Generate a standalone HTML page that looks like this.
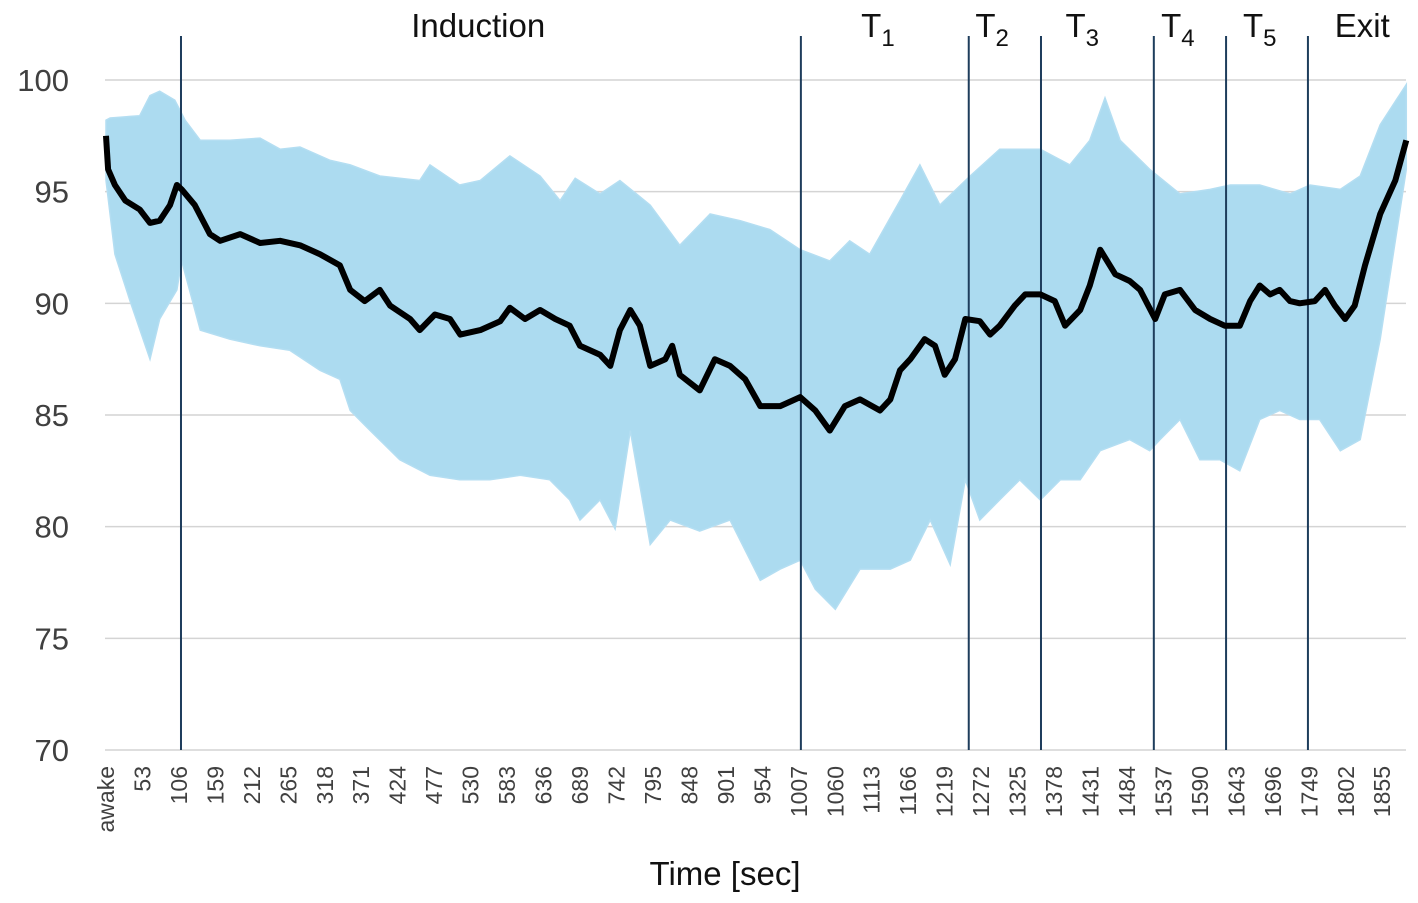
<!DOCTYPE html>
<html><head><meta charset="utf-8"><style>
html,body{margin:0;padding:0;background:#fff;}
svg{display:block;font-family:"Liberation Sans",sans-serif;}
</style></head><body>
<svg id="chart" width="1418" height="903" viewBox="0 0 1418 903">
<g id="grid"></g>
<g id="band"></g>
<g id="events"></g>
<g id="mean"></g>
<g id="ylab"></g>
<g id="xlab"></g>
<text x="725" y="885" font-size="33" text-anchor="middle" fill="#111">Time [sec]</text>
</svg>
<script>
const yTicks=[70,75,80,85,90,95,100];
const xTickLabels=["awake","53","106","159","212","265","318","371","424","477","530","583","636","689","742","795","848","901","954","1007","1060","1113","1166","1219","1272","1325","1378","1431","1484","1537","1590","1643","1696","1749","1802","1855"];
const xTickSecs=[0,53,106,159,212,265,318,371,424,477,530,583,636,689,742,795,848,901,954,1007,1060,1113,1166,1219,1272,1325,1378,1431,1484,1537,1590,1643,1696,1749,1802,1855];
const eventSecs=[109,1010,1254,1359,1523,1628,1747];
const phaseNames=["Induction","T","T","T","T","T","Exit"];
const phaseSubs=["","1","2","3","4","5",""];
const phaseCenters=[541,1122,1288,1419,1558,1677,1826];
const meanT=[0,3,13,28,49,64,78,93,103,110,129,151,166,195,224,253,282,311,340,355,376,398,413,442,456,478,500,515,544,573,587,609,631,653,674,689,718,733,747,762,776,791,813,823,834,863,885,907,929,951,980,1009,1031,1052,1074,1096,1125,1140,1154,1169,1190,1205,1219,1234,1249,1270,1285,1299,1321,1336,1358,1379,1394,1416,1430,1445,1467,1488,1503,1525,1539,1561,1583,1605,1626,1648,1663,1677,1692,1706,1721,1735,1757,1772,1786,1801,1815,1830,1852,1874,1890];
const meanV=[97.5,96.0,95.3,94.6,94.2,93.6,93.7,94.4,95.3,95.1,94.4,93.1,92.8,93.1,92.7,92.8,92.6,92.2,91.7,90.6,90.1,90.6,89.9,89.3,88.8,89.5,89.3,88.6,88.8,89.2,89.8,89.3,89.7,89.3,89.0,88.1,87.7,87.2,88.8,89.7,89.0,87.2,87.5,88.1,86.8,86.1,87.5,87.2,86.6,85.4,85.4,85.8,85.2,84.3,85.4,85.7,85.2,85.7,87.0,87.5,88.4,88.1,86.8,87.5,89.3,89.2,88.6,89.0,89.9,90.4,90.4,90.1,89.0,89.7,90.8,92.4,91.3,91.0,90.6,89.3,90.4,90.6,89.7,89.3,89.0,89.0,90.1,90.8,90.4,90.6,90.1,90.0,90.1,90.6,89.9,89.3,89.9,91.7,94.0,95.5,97.3];
const upT=[0,6,49,64,78,100,115,137,180,224,253,282,326,355,398,456,471,514,544,587,631,660,682,718,747,791,834,878,922,965,1009,1052,1081,1110,1154,1183,1212,1256,1299,1358,1401,1430,1452,1474,1517,1561,1605,1634,1677,1721,1750,1794,1823,1852,1890];
const upV=[98.2,98.3,98.4,99.3,99.5,99.1,98.2,97.3,97.3,97.4,96.9,97.0,96.4,96.2,95.7,95.5,96.2,95.3,95.5,96.6,95.7,94.6,95.6,94.9,95.5,94.4,92.6,94.0,93.7,93.3,92.4,91.9,92.8,92.2,94.6,96.2,94.4,95.7,96.9,96.9,96.2,97.3,99.2,97.3,96.0,94.9,95.1,95.3,95.3,94.9,95.3,95.1,95.7,98.0,99.8];
const loT=[0,13,35,64,78,103,110,137,180,224,267,311,340,355,384,427,471,514,558,602,645,674,689,718,740,762,791,820,863,907,951,980,1009,1031,1060,1096,1140,1169,1198,1227,1249,1270,1299,1328,1358,1387,1416,1445,1488,1517,1532,1561,1590,1619,1648,1677,1706,1735,1764,1794,1823,1852,1890];
const loV=[95.5,92.2,90.1,87.5,89.3,90.6,91.9,88.8,88.4,88.1,87.9,87.0,86.6,85.2,84.3,83.0,82.3,82.1,82.1,82.3,82.1,81.2,80.3,81.2,79.9,84.3,79.2,80.3,79.8,80.3,77.6,78.1,78.5,77.2,76.3,78.1,78.1,78.5,80.3,78.3,82.1,80.3,81.2,82.1,81.2,82.1,82.1,83.4,83.9,83.4,83.9,84.8,83.0,83.0,82.5,84.8,85.2,84.8,84.8,83.4,83.9,88.4,96.0];

const NS="http://www.w3.org/2000/svg";
const X0=106,XS=0.688,Y70=750,YPX=22.333;
const xs=t=>X0+t*XS;
const ys=v=>Y70-(v-70)*YPX;
function mk(tag,attrs,parent){const e=document.createElementNS(NS,tag);for(const k in attrs)e.setAttribute(k,attrs[k]);parent.appendChild(e);return e;}
const g=id=>document.getElementById(id);

yTicks.forEach(v=>{
  const l=mk('line',{x1:105,x2:1406,y1:ys(v),y2:ys(v),stroke:'#d4d4d4','stroke-width':1.5},g('grid'));
  
  
  const t=mk('text',{x:69,y:ys(v)+11,'font-size':31,'text-anchor':'end',fill:'#404040'},g('ylab'));
  t.textContent=v;
  
  
});

let d='';
upT.forEach((t,i)=>{d+=(i?'L':'M')+Math.max(104,xs(t)).toFixed(1)+','+ys(upV[i]).toFixed(1);});
for(let i=loT.length-1;i>=0;i--){d+='L'+Math.max(104,xs(loT[i])).toFixed(1)+','+ys(loV[i]).toFixed(1);}
const band=mk('path',{d:d+'Z',fill:'#acdbf0',stroke:'#b4def2','stroke-width':1.5},g('band'));



eventSecs.forEach((s,i)=>{
  const l=mk('line',{x1:xs(s),x2:xs(s),y1:36,y2:750,stroke:'#1e3d5c','stroke-width':2},g('events'));
  
  
});
phaseNames.forEach((n,i)=>{
  const t=mk('text',{x:xs(phaseCenters[i]),y:37,'font-size':33,'text-anchor':'middle',fill:'#111'},g('events'));
  t.textContent=n;
  if(phaseSubs[i]){const ts=mk('tspan',{'font-size':24,dy:9},t);ts.textContent=phaseSubs[i];}
  
  
});

let md='';
meanT.forEach((t,i)=>{md+=(i?'L':'M')+xs(t).toFixed(1)+','+ys(meanV[i]).toFixed(1);});
const ml=mk('path',{d:md,fill:'none',stroke:'#000','stroke-width':6,'stroke-linejoin':'round'},g('mean'));



xTickLabels.forEach((lab,i)=>{
  const x=xs(xTickSecs[i]);
  const t=mk('text',{x:0,y:0,'font-size':23,'text-anchor':'end',fill:'#404040',transform:`translate(${x+8},766) rotate(-90)`},g('xlab'));
  t.textContent=lab;
  
  
});
</script>
</body></html>
